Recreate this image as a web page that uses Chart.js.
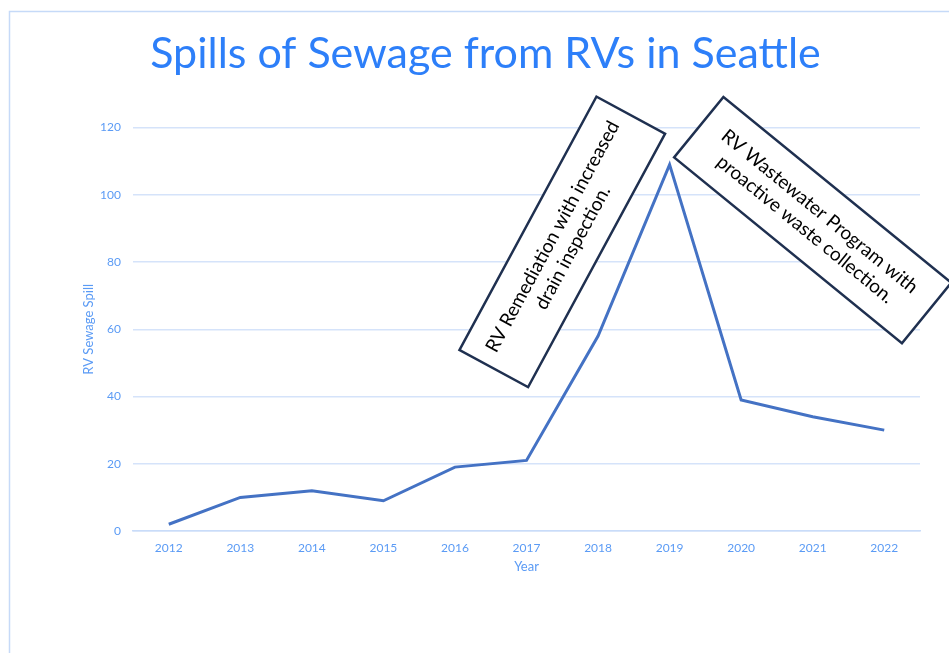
<!DOCTYPE html>
<html>
<head>
<meta charset="utf-8">
<script src="https://cdn.jsdelivr.net/npm/chart.js@4.4.1/dist/chart.umd.min.js"></script>
<style>
  html, body { margin: 0; padding: 0; background: #fff; overflow: hidden; }
  #wrap { width: 949px; height: 653px; position: relative; }
</style>
</head>
<body>
<div id="wrap"><canvas id="spills" width="949" height="653"></canvas></div>
<script>
  // chart data
  const years = ['2012', '2013', '2014', '2015', '2016', '2017', '2018', '2019', '2020', '2021', '2022'];
  const spills = [2, 10, 12, 9, 19, 21, 58, 109, 39, 34, 30];
  const yTicks = [0, 20, 40, 60, 80, 100, 120];

  const notes = [
    { lines: ['RV Remediation with increased', 'drain inspection.'], at: 5.5, val: 86, angle: -61.6, w: 288, h: 78 },
    { lines: ['RV Wastewater Program with', 'proactive waste collection.'], at: 9.0, val: 92.5, angle: 39.2, w: 294, h: 78 },
  ];

  const FONT = 'Lato, "Open Sans", sans-serif';
  const tickBlue = '#5B9BF5';

  // outer frame + rotated callout boxes
  const extras = {
    id: 'extras',
    beforeDraw(chart) {
      const c = chart.ctx;
      c.save();
      c.strokeStyle = '#C6DAF8';
      c.lineWidth = 1.5;
      c.strokeRect(9.5, 11.5, 1000, 700);
      c.restore();
    },
    afterDraw(chart) {
      const c = chart.ctx;
      const xs = chart.scales.x, ys = chart.scales.y;
      notes.forEach(n => {
        const cx = xs.getPixelForValue(Math.floor(n.at)) + (n.at % 1) * (xs.getPixelForValue(1) - xs.getPixelForValue(0));
        const cy = ys.getPixelForValue(n.val);
        c.save();
        c.translate(cx, cy);
        c.rotate(n.angle * Math.PI / 180);
        c.fillStyle = '#fff';
        c.fillRect(-n.w / 2, -n.h / 2, n.w, n.h);
        c.strokeStyle = '#1F3050';
        c.lineWidth = 2.5;
        c.strokeRect(-n.w / 2, -n.h / 2, n.w, n.h);
        c.fillStyle = '#000';
        c.font = '19px ' + FONT;
        c.textAlign = 'center';
        c.textBaseline = 'middle';
        c.fillText(n.lines[0], 0, -11);
        c.fillText(n.lines[1], 0, 12);
        c.restore();
      });
    }
  };

  new Chart(document.getElementById('spills'), {
    type: 'line',
    data: {
      labels: years,
      datasets: [
        {
          label: 'RV Sewage Spill',
          data: spills,
          borderColor: '#4472C4',
          borderWidth: 3,
          pointRadius: 0,
          tension: 0,
          fill: false,
        },
      ],
    },
    options: {
      responsive: false,
      animation: false,
      layout: { padding: { left: 51, right: 29, top: 0, bottom: 78 } },
      plugins: {
        legend: { display: false },
        tooltip: { enabled: false },
        title: {
          display: true,
          text: 'Spills of Sewage from RVs in Seattle',
          color: '#2D7FF9',
          font: { family: FONT, size: 43, weight: 'normal' },
          padding: { top: 28, bottom: 48 },
        },
      },
      scales: {
        x: {
          offset: true,
          grid: { display: false, drawTicks: false },
          border: { display: true, color: '#C9DCF9', width: 1.5 },
          ticks: { color: tickBlue, font: { family: FONT, size: 12 }, padding: 10 },
          title: { display: true, text: 'Year', color: tickBlue, font: { family: FONT, size: 13 }, padding: { top: 4, bottom: 0 } },
          afterFit: (s) => { s.height = 44; },
        },
        y: {
          min: 0,
          max: 120,
          afterBuildTicks: (s) => { s.ticks = yTicks.map(v => ({ value: v })); },
          grid: { color: '#D5E3FA', lineWidth: 1.5, drawTicks: false },
          border: { display: false },
          ticks: { color: tickBlue, font: { family: FONT, size: 12 }, padding: 12 },
          title: { display: true, text: 'RV Sewage Spill', color: tickBlue, font: { family: FONT, size: 13 }, padding: { top: 30, bottom: 4 } },
          afterFit: (s) => { s.width = 82; },
        },
      },
    },
    plugins: [extras],
  });
</script>
</body>
</html>
